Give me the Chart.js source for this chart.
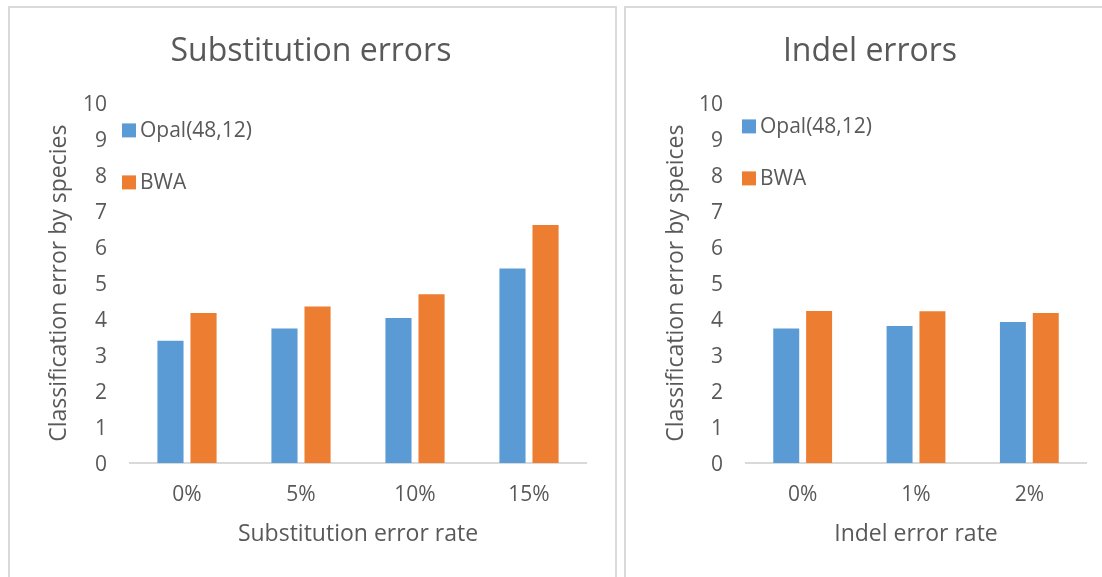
<!DOCTYPE html>
<html>
<head>
<meta charset="utf-8">
<title>Substitution / Indel errors</title>
<script src="https://cdn.jsdelivr.net/npm/chart.js@4.4.1/dist/chart.umd.min.js"></script>
<style>
    html, body { margin: 0; padding: 0; background: #fff; width: 1102px; height: 577px; overflow: hidden; }
    .panel { position: absolute; border: 2px solid #dadada; box-sizing: border-box; }
    canvas { position: absolute; top: 0; }
</style>
</head>
<body>
<div class="panel" style="left:8px; top:6px; width:609px; height:620px;"></div>
<div class="panel" style="left:624px; top:6px; width:600px; height:620px;"></div>
<canvas id="subChart" style="left:0px;" width="615" height="577"></canvas>
<canvas id="indelChart" style="left:620px;" width="482" height="577"></canvas>

<script>
// --- DATA ---
const seriesNames = ['Opal(48,12)', 'BWA'];

const subCategories = ['0%', '5%', '10%', '15%'];
const subOpal = [3.40, 3.74, 4.03, 5.41];
const subBwa  = [4.17, 4.35, 4.69, 6.62];

const indelCategories = ['0%', '1%', '2%'];
const indelOpal = [3.74, 3.81, 3.92];
const indelBwa  = [4.23, 4.22, 4.17];

const yMin = 0;
const yMax = 10;
const yStep = 1;

// --- STYLE ---
const FONT = "'Open Sans', 'Noto Sans', sans-serif";
const TEXT = '#595959';
const BLUE = '#5B9BD5';
const ORANGE = '#ED7D31';
const AXIS = '#d9d9d9';

// Legend drawn inside the plot, top-left, one entry per row (like Excel)
const insideLegend = {
    id: 'insideLegend',
    afterDraw(chart, args, opts) {
        const { ctx, chartArea } = chart;
        ctx.save();
        ctx.font = `21px ${FONT}`;
        ctx.textBaseline = 'middle';
        ctx.textAlign = 'left';
        chart.data.datasets.forEach((ds, i) => {
            const cy = chartArea.top + opts.firstRow + i * opts.rowGap;
            const x = chartArea.left + opts.dx;
            ctx.fillStyle = ds.backgroundColor;
            ctx.fillRect(x, cy - 7, 14, 14);
            ctx.fillStyle = TEXT;
            ctx.fillText(ds.label, x + 18, cy + 1);
        });
        ctx.restore();
    }
};

function buildChart(canvasId, title, categories, opal, bwa, xTitle, yTitle, lay) {
    return new Chart(document.getElementById(canvasId), {
        type: 'bar',
        data: {
            labels: categories,
            datasets: [
                { label: seriesNames[0], data: opal, backgroundColor: BLUE },
                { label: seriesNames[1], data: bwa, backgroundColor: ORANGE }
            ]
        },
        options: {
            responsive: false,
            animation: false,
            devicePixelRatio: 1,
            categoryPercentage: 0.58,
            barPercentage: 0.79,
            layout: { padding: { left: lay.padLeft, right: lay.padRight, top: 0, bottom: 0 } },
            plugins: {
                legend: { display: false },
                tooltip: { enabled: false },
                title: {
                    display: true,
                    text: title,
                    color: TEXT,
                    font: { family: FONT, size: 32, weight: 'normal', lineHeight: 1.2 },
                    padding: { top: 33, bottom: 32 }
                },
                insideLegend: lay.legend
            },
            scales: {
                x: {
                    grid: { display: false, drawTicks: false },
                    border: { display: true, color: AXIS, width: 2 },
                    ticks: { color: TEXT, font: { family: FONT, size: 21 }, padding: 19 },
                    title: {
                        display: true, text: xTitle, color: TEXT,
                        font: { family: FONT, size: 23, lineHeight: 1.2 },
                        padding: { top: 0, bottom: 29 }
                    },
                    afterFit: s => { s.height = 114; }
                },
                y: {
                    min: yMin, max: yMax,
                    grid: { display: false, drawTicks: false },
                    border: { display: false },
                    ticks: { stepSize: yStep, color: TEXT, font: { family: FONT, size: 21 }, padding: 23, labelOffset: 2 },
                    title: {
                        display: true, text: yTitle, color: TEXT,
                        font: { family: FONT, size: 23, lineHeight: 1.2 },
                        padding: { top: lay.yTitlePad, bottom: 0 }
                    },
                    afterFit: s => { s.width = lay.yWidth; }
                }
            }
        },
        plugins: [insideLegend]
    });
}

buildChart('subChart', 'Substitution errors', subCategories, subOpal, subBwa,
    'Substitution error rate', 'Classification error by species',
    { padLeft: 36, padRight: 29, yWidth: 94, yTitlePad: 10,
      legend: { dx: -8, firstRow: 27, rowGap: 52 } });

buildChart('indelChart', 'Indel errors', indelCategories, indelOpal, indelBwa,
    'Indel error rate', 'Classification error by speices',
    { padLeft: 34, padRight: 16, yWidth: 92, yTitlePad: 9,
      legend: { dx: -4, firstRow: 23, rowGap: 52 } });
</script>
</body>
</html>
